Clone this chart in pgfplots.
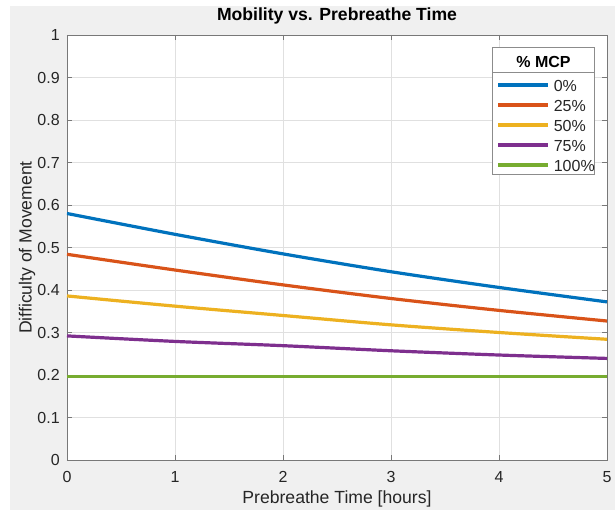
\documentclass[border=0pt]{standalone}
\usepackage{fontspec}
\setmainfont{Liberation Sans}
\usepackage{pgfplots}
\pgfplotsset{compat=1.18}
\definecolor{figgray}{RGB}{240,240,240}
\definecolor{mblue}{rgb}{0,0.447,0.741}
\definecolor{morange}{rgb}{0.85,0.325,0.098}
\definecolor{myellow}{rgb}{0.929,0.694,0.125}
\definecolor{mpurple}{rgb}{0.494,0.184,0.556}
\definecolor{mgreen}{rgb}{0.466,0.674,0.188}
\definecolor{axcol}{RGB}{120,120,120}
\definecolor{txtcol}{RGB}{38,38,38}
\begin{document}
\begin{tikzpicture}
\path[use as bounding box] (-50.25pt,-37.5pt) rectangle (411pt,345pt);
\fill[white] (-50.25pt,-37.5pt) rectangle (411pt,345pt);
\fill[figgray] (-42.75pt,-37.5pt) rectangle (411pt,340.5pt);
\begin{axis}[
  at={(0,0)}, anchor=south west,
  scale only axis, width=405pt, height=318.75pt,
  xmin=0, xmax=5, ymin=0, ymax=1,
  xtick={0,1,2,3,4,5},
  ytick={0,0.1,0.2,0.3,0.4,0.5,0.6,0.7,0.8,0.9,1},
  yticklabels={0,0.1,0.2,0.3,0.4,0.5,0.6,0.7,0.8,0.9,1},
  /pgf/number format/assume math mode=true,
  axis background/.style={fill=white},
  axis line style={axcol, line width=0.6pt},
  tick style={axcol, line width=0.6pt},
  major tick length=4pt,
  grid=major,
  major grid style={black!12, line width=0.5pt},
  ticklabel style={font=\fontsize{12}{14}\selectfont, text=txtcol},
  xticklabel style={inner sep=0pt, anchor=north, yshift=-8.5pt},
  yticklabel style={inner sep=0pt, anchor=east, xshift=-5.25pt},
  xlabel={Prebreathe Time [hours]},
  ylabel={Difficulty of Movement},
  label style={font=\fontsize{13.2}{15}\selectfont, text=txtcol},
  xlabel style={at={(axis description cs:0.5,-0.1012)}, anchor=base},
  ylabel style={at={(axis description cs:-0.0741,0.5)}, anchor=center},
  title={Mobility vs. Prebreathe Time},
  title style={font=\fontsize{13.2}{15}\selectfont\bfseries, at={(axis description cs:0.5,1.0158)}, anchor=base, text=black},
  legend cell align=left,
  legend image code/.code={\draw[#1, line width=2.4pt] (0pt,2.5pt) -- (37.2pt,2.5pt); \path (40.5pt,2.5pt);},
  legend style={at={(axis description cs:0.7951,0.8988)}, anchor=north west,
    draw=none, fill=none, inner sep=0pt, row sep=0pt,
    font=\fontsize{12}{14}\selectfont, text=txtcol,
    cells={anchor=west},
    nodes={inner sep=0pt, text height=10pt, text depth=5pt}},
  every axis plot/.append style={line width=2.4pt, smooth},
]
\addplot[mblue] coordinates {(0,0.580)(1,0.531)(2,0.485)(3,0.443)(4,0.406)(5,0.372)};
\addlegendentry{0\%}
\addplot[morange] coordinates {(0,0.484)(1,0.447)(2,0.412)(3,0.380)(4,0.352)(5,0.327)};
\addlegendentry{25\%}
\addplot[myellow] coordinates {(0,0.386)(1,0.362)(2,0.340)(3,0.318)(4,0.300)(5,0.284)};
\addlegendentry{50\%}
\addplot[mpurple] coordinates {(0,0.292)(1,0.279)(2,0.269)(3,0.257)(4,0.247)(5,0.239)};
\addlegendentry{75\%}
\addplot[mgreen] coordinates {(0,0.197)(1,0.197)(2,0.197)(3,0.197)(4,0.197)(5,0.197)};
\addlegendentry{100\%}
\draw[black!45, fill=white, line width=0.6pt] (axis description cs:0.7883,0.6722) rectangle (axis description cs:0.9765,0.9711);
\draw[black!45, line width=0.6pt] (axis description cs:0.7883,0.9122) -- (axis description cs:0.9765,0.9122);
\node[anchor=base, font=\fontsize{12}{14}\selectfont\bfseries, text=black] at (axis description cs:0.8824,0.924) {\% MCP};
\end{axis}
\end{tikzpicture}
\end{document}
